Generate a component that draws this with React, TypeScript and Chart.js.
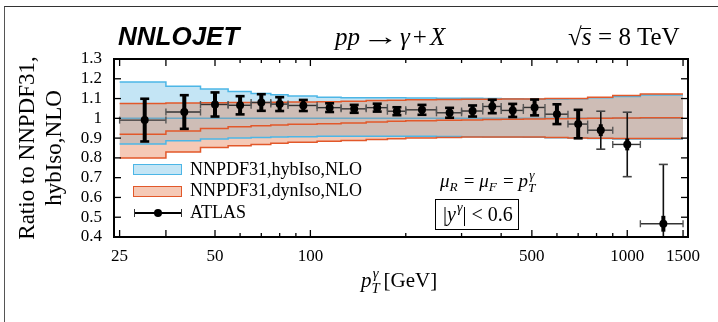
import React, { useEffect, useRef } from "react";
import { Chart, registerables } from "chart.js";

Chart.register(...registerables);

// ---------------- data ----------------
const binEdges = [25, 35, 45, 55, 65, 75, 85, 105, 125, 150, 175, 200, 250, 300, 350, 400, 470, 550, 650, 750, 900, 1100, 1500];

const atlasRatio = [0.991, 1.032, 1.07, 1.066, 1.08, 1.072, 1.065, 1.054, 1.048, 1.054, 1.036, 1.043, 1.028, 1.037, 1.06, 1.04, 1.055, 1.021, 0.971, 0.94, 0.868, 0.467];
const atlasErrTotal = [0.108, 0.085, 0.061, 0.046, 0.042, 0.035, 0.028, 0.022, 0.02, 0.02, 0.02, 0.025, 0.025, 0.028, 0.034, 0.033, 0.04, 0.05, 0.072, 0.096, 0.163, 0.3];
const atlasErrSyst = [0.108, 0.085, 0.061, 0.046, 0.042, 0.035, 0.028, 0.022, 0.02, 0.02, 0.02, 0.025, 0.025, 0.028, 0.034, 0.033, 0.04, 0.05, 0.072, 0.03, 0.03, 0.04];

const hybUp = [1.184, 1.162, 1.148, 1.136, 1.126, 1.119, 1.113, 1.107, 1.104, 1.104, 1.104, 1.103, 1.102, 1.101, 1.1, 1.099, 1.098, 1.098, 1.099, 1.104, 1.111, 1.118];
const hybCentral = [1, 1, 1, 1, 1, 1, 1, 1, 1, 1, 1, 1, 1, 1, 1, 1, 1, 1, 1, 1, 1, 1];
const hybLo = [0.87, 0.887, 0.895, 0.9, 0.903, 0.905, 0.907, 0.909, 0.91, 0.91, 0.91, 0.909, 0.908, 0.907, 0.906, 0.905, 0.904, 0.902, 0.9, 0.898, 0.896, 0.895];

const dynUp = [1.075, 1.077, 1.079, 1.08, 1.08, 1.081, 1.082, 1.084, 1.087, 1.09, 1.092, 1.094, 1.095, 1.096, 1.097, 1.098, 1.098, 1.1, 1.1, 1.107, 1.115, 1.123];
const dynCentral = [0.92, 0.936, 0.949, 0.957, 0.962, 0.966, 0.97, 0.973, 0.976, 0.982, 0.985, 0.988, 0.99, 0.992, 0.994, 0.995, 0.997, 0.998, 0.999, 1.0, 1.002, 1.003];
const dynLo = [0.8, 0.83, 0.853, 0.861, 0.868, 0.874, 0.879, 0.884, 0.888, 0.893, 0.897, 0.9, 0.903, 0.905, 0.906, 0.906, 0.905, 0.903, 0.901, 0.899, 0.898, 0.898];

const xTickLabels = [25, 50, 100, 500, 1000, 1500];
const xMajorMarks = [25, 35, 50, 100, 500, 1000, 1500];
const xMinorMarks = [60, 70, 80, 90, 200, 300, 400, 600, 700, 800, 900];
const yTickValues = [0.4, 0.5, 0.6, 0.7, 0.8, 0.9, 1.0, 1.1, 1.2, 1.3];

const yTitleLines = ["Ratio to NNPDF31,", "hybIso,NLO"];
const legendLabels = ["NNPDF31,hybIso,NLO", "NNPDF31,dynIso,NLO", "ATLAS"];

// ---------------- styles ----------------
const SERIF = '"Liberation Serif", "Times New Roman", serif';
const SANS = '"Liberation Sans", Arial, sans-serif';
const BLUE_LINE = "#4cb6e6";
const BLUE_CENTRAL = "#6ea8c4";
const BLUE_FILL = "#c4e5f5";
const ORANGE_LINE = "#e2582a";
const ORANGE_FILL = "#f5c9b6";
const OVERLAP_FILL = "#cebdb6";

const binCenters = atlasRatio.map((_, i) => (binEdges[i] + binEdges[i + 1]) / 2);

function stepPoints(vals: number[]) {
  const pts = vals.map((v, i) => ({ x: binEdges[i], y: v }));
  pts.push({ x: binEdges[binEdges.length - 1], y: vals[vals.length - 1] });
  return pts;
}

const overlapUp = hybUp.map((v, i) => Math.min(v, dynUp[i]));
const overlapLo = hybLo.map((v, i) => Math.max(v, dynLo[i]));

function bandDataset(vals: number[], color: string, width: number, fill: any, bg: string) {
  return {
    data: stepPoints(vals),
    borderColor: color,
    borderWidth: width,
    pointRadius: 0,
    pointHoverRadius: 0,
    stepped: "before",
    tension: 0,
    fill,
    backgroundColor: bg,
  };
}

const errorBarPlugin = {
  id: "atlasErrorBars",
  beforeDatasetDraw(chart: any, args: any) {
    if (args.index !== 0) return;
    const { ctx, chartArea: a, scales } = chart;
    const x = scales.x;
    const y = scales.y;
    ctx.save();
    ctx.beginPath();
    ctx.rect(a.left, a.top, a.right - a.left, a.bottom - a.top);
    ctx.clip();
    const seg = (x1: number, y1: number, x2: number, y2: number) => {
      ctx.beginPath();
      ctx.moveTo(x1, y1);
      ctx.lineTo(x2, y2);
      ctx.stroke();
    };
    atlasRatio.forEach((v, i) => {
      const xl = x.getPixelForValue(binEdges[i]);
      const xr = x.getPixelForValue(binEdges[i + 1]);
      const xc = x.getPixelForValue(binCenters[i]);
      const yc = y.getPixelForValue(v);
      ctx.strokeStyle = "#333";
      ctx.lineWidth = 1.4;
      seg(xl, yc, xr, yc);
      ctx.strokeStyle = "#555";
      seg(xl, yc - 3.5, xl, yc + 3.5);
      seg(xr, yc - 3.5, xr, yc + 3.5);
      const tot = atlasErrTotal[i];
      const sys = atlasErrSyst[i];
      if (tot > sys + 1e-6) {
        const yt = y.getPixelForValue(v + tot);
        const yb = y.getPixelForValue(v - tot);
        ctx.strokeStyle = "#111";
        ctx.lineWidth = 1.6;
        seg(xc, yt, xc, yb);
        ctx.strokeStyle = "#444";
        seg(xc - 4.5, yt, xc + 4.5, yt);
        seg(xc - 4.5, yb, xc + 4.5, yb);
      }
      const ys1 = y.getPixelForValue(v + sys);
      const ys2 = y.getPixelForValue(v - sys);
      ctx.strokeStyle = "#000";
      ctx.lineWidth = 4;
      seg(xc, ys1, xc, ys2);
      if (tot <= sys + 1e-6) {
        ctx.lineWidth = 2.6;
        seg(xc - 4.5, ys1, xc + 4.5, ys1);
        seg(xc - 4.5, ys2, xc + 4.5, ys2);
      }
    });
    ctx.restore();
  },
};

const framePlugin = {
  id: "frameTicks",
  afterDatasetsDraw(chart: any) {
    const { ctx, chartArea: a, scales } = chart;
    const x = scales.x;
    const y = scales.y;
    ctx.save();
    ctx.strokeStyle = "#000";
    ctx.lineWidth = 1.3;
    const seg = (x1: number, y1: number, x2: number, y2: number) => {
      ctx.beginPath();
      ctx.moveTo(x1, y1);
      ctx.lineTo(x2, y2);
      ctx.stroke();
    };
    xMajorMarks.forEach((v) => {
      const px = x.getPixelForValue(v);
      seg(px, a.bottom, px, a.bottom - 7);
      seg(px, a.top, px, a.top + 7);
    });
    xMinorMarks.forEach((v) => {
      const px = x.getPixelForValue(v);
      seg(px, a.bottom, px, a.bottom - 4);
      seg(px, a.top, px, a.top + 4);
    });
    yTickValues.forEach((v) => {
      const py = y.getPixelForValue(v);
      seg(a.left, py, a.left + 7, py);
      seg(a.right, py, a.right - 7, py);
    });
    ctx.lineWidth = 2;
    ctx.strokeRect(a.left, a.top, a.right - a.left, a.bottom - a.top);
    ctx.restore();
  },
};

// ---------------- text helpers ----------------
const ASC = 0.8375;

function Txt(props: { x: number; base: number; fs: number; family?: string; asc?: number; style?: any; children: any }) {
  const asc = props.asc ?? ASC;
  return (
    <div
      style={{
        position: "absolute",
        left: props.x,
        top: props.base - asc * props.fs,
        fontSize: props.fs,
        lineHeight: 1,
        fontFamily: props.family ?? SERIF,
        whiteSpace: "nowrap",
        color: "#000",
        ...(props.style || {}),
      }}
    >
      {props.children}
    </div>
  );
}

function SubSup(props: { fs: number; sup?: string; sub?: string; w: number; supRaise?: number; subDrop?: number }) {
  const s = 0.7 * props.fs;
  const raise = props.supRaise ?? 0.4;
  const drop = props.subDrop ?? 0.22;
  return (
    <span style={{ display: "inline-block", position: "relative", width: props.w * props.fs, height: 0 }}>
      {props.sup ? (
        <span style={{ position: "absolute", left: 0.06 * props.fs, top: -raise * props.fs - ASC * s, fontSize: s, lineHeight: 1, fontStyle: "italic" }}>
          {props.sup}
        </span>
      ) : null}
      {props.sub ? (
        <span style={{ position: "absolute", left: 0, top: drop * props.fs - ASC * s, fontSize: s, lineHeight: 1, fontStyle: "italic" }}>
          {props.sub}
        </span>
      ) : null}
    </span>
  );
}

export default function App() {
  const canvasRef = useRef<HTMLCanvasElement | null>(null);

  useEffect(() => {
    if (!canvasRef.current) return;
    const chart = new Chart(canvasRef.current, {
      type: "line",
      data: {
        datasets: [
          {
            data: binCenters.map((c, i) => ({ x: c, y: atlasRatio[i] })),
            showLine: false,
            pointRadius: 4,
            pointHoverRadius: 4,
            pointBackgroundColor: "#000",
            pointBorderColor: "#000",
            pointBorderWidth: 0,
            borderColor: "#000",
            backgroundColor: "#000",
          } as any,
          bandDataset(overlapUp, "rgba(0,0,0,0)", 0, "+1", OVERLAP_FILL),
          bandDataset(overlapLo, "rgba(0,0,0,0)", 0, false, "rgba(0,0,0,0)"),
          bandDataset(dynUp, ORANGE_LINE, 1.5, "+1", ORANGE_FILL),
          bandDataset(dynLo, ORANGE_LINE, 1.5, false, "rgba(0,0,0,0)"),
          bandDataset(dynCentral, ORANGE_LINE, 1.5, false, "rgba(0,0,0,0)"),
          bandDataset(hybUp, BLUE_LINE, 1.5, "+1", BLUE_FILL),
          bandDataset(hybLo, BLUE_LINE, 1.5, false, "rgba(0,0,0,0)"),
          bandDataset(hybCentral, BLUE_CENTRAL, 1.5, false, "rgba(0,0,0,0)"),
        ] as any,
      },
      options: {
        animation: false,
        responsive: false,
        devicePixelRatio: 1,
        events: [],
        layout: { padding: { left: 0, top: 59, right: 30, bottom: 0 } },
        plugins: {
          legend: { display: false },
          tooltip: { enabled: false },
          filler: { drawTime: "beforeDatasetsDraw", propagate: false },
        } as any,
        scales: {
          x: {
            type: "logarithmic",
            min: 24,
            max: 1555,
            afterBuildTicks: (s: any) => {
              s.ticks = xTickLabels.map((v) => ({ value: v }));
            },
            afterFit: (s: any) => {
              s.height = 85;
            },
            ticks: {
              autoSkip: false,
              maxRotation: 0,
              minRotation: 0,
              padding: 9,
              color: "#000",
              font: { family: SERIF, size: 17 },
              callback: (v: any) => String(v),
            },
            grid: { display: false, drawTicks: false },
            border: { display: false },
          },
          y: {
            type: "linear",
            min: 0.4,
            max: 1.3,
            afterBuildTicks: (s: any) => {
              s.ticks = yTickValues.map((v) => ({ value: v }));
            },
            afterFit: (s: any) => {
              s.width = 114;
            },
            ticks: {
              autoSkip: false,
              padding: 12,
              color: "#000",
              font: { family: SERIF, size: 17 },
              callback: (v: any) => String(Math.round(Number(v) * 10) / 10),
            },
            grid: { display: false, drawTicks: false },
            border: { display: false },
            title: {
              display: true,
              text: yTitleLines,
              color: "#000",
              font: { family: SERIF, size: 23, lineHeight: 1.15 },
              padding: { top: 15, bottom: 0 },
            },
          },
        } as any,
      },
      plugins: [errorBarPlugin, framePlugin],
    } as any);
    return () => chart.destroy();
  }, []);

  return (
    <div style={{ position: "fixed", left: 0, top: 0, width: 718, height: 322, background: "#fff", overflow: "hidden", fontFamily: SERIF }}>
      <canvas ref={canvasRef} width={718} height={322} style={{ position: "absolute", left: 0, top: 0, width: 718, height: 322 }} />
      <div style={{ position: "absolute", left: 4, top: 6, width: 730, height: 330, borderTop: "1.5px solid #333", borderLeft: "1.5px solid #555" }} />

      <Txt x={118} base={45} fs={26} family={SANS} asc={0.8465} style={{ fontWeight: "bold", fontStyle: "italic" }}>
        NNLOJET
      </Txt>
      <Txt x={335} base={45} fs={25}>
        <i>pp</i>
        <span style={{ display: "inline-block", margin: "0 0.3em", transform: "scaleX(1.5)" }}>→</span>
        <i>γ</i>
        <span style={{ margin: "0 0.12em" }}>+</span>
        <i>X</i>
      </Txt>
      <Txt x={568} base={45} fs={25}>
        <span>√</span>
        <span style={{ position: "relative", fontStyle: "italic" }}>
          s
          <span style={{ position: "absolute", left: -1, right: 0, top: "0.2em", borderTop: "1.3px solid #000" }} />
        </span>
        <span style={{ margin: "0 0.26em" }}>=</span>8 TeV
      </Txt>

      <div style={{ position: "absolute", left: 133, top: 164, width: 49, height: 11, boxSizing: "border-box", background: BLUE_FILL, border: `1.5px solid ${BLUE_LINE}` }} />
      <div style={{ position: "absolute", left: 133, top: 186, width: 49, height: 11, boxSizing: "border-box", background: ORANGE_FILL, border: `1.5px solid ${ORANGE_LINE}` }} />
      <div style={{ position: "absolute", left: 134, top: 212.3, width: 47, height: 1.5, background: "#000" }} />
      <div style={{ position: "absolute", left: 133.5, top: 209, width: 1.5, height: 8, background: "#333" }} />
      <div style={{ position: "absolute", left: 180.5, top: 209, width: 1.5, height: 8, background: "#333" }} />
      <div style={{ position: "absolute", left: 154, top: 209, width: 8, height: 8, borderRadius: 4, background: "#000" }} />
      <Txt x={190} base={175} fs={18}>{legendLabels[0]}</Txt>
      <Txt x={190} base={196} fs={18}>{legendLabels[1]}</Txt>
      <Txt x={190} base={218} fs={18}>{legendLabels[2]}</Txt>

      <Txt x={440} base={187} fs={19}>
        <i>μ</i>
        <SubSup fs={19} sub="R" w={0.5} subDrop={0.22} />
        <span style={{ margin: "0 0.25em" }}>=</span>
        <i>μ</i>
        <SubSup fs={19} sub="F" w={0.5} subDrop={0.22} />
        <span style={{ margin: "0 0.25em" }}>=</span>
        <i>p</i>
        <SubSup fs={19} sup="γ" sub="T" w={0.5} supRaise={0.42} subDrop={0.28} />
      </Txt>

      <div style={{ position: "absolute", left: 435, top: 199, width: 84, height: 31, boxSizing: "border-box", border: "1.5px solid #000" }} />
      <Txt x={443} base={221} fs={20}>
        |<i>y</i>
        <SubSup fs={20} sup="γ" w={0.33} supRaise={0.42} />|<span style={{ margin: "0 0.25em" }}>&lt;</span>0.6
      </Txt>

      <Txt x={361} base={288} fs={21}>
        <i>p</i>
        <SubSup fs={21} sup="γ" sub="T" w={0.48} supRaise={0.42} subDrop={0.28} />
        <span style={{ marginLeft: 2 }}>[GeV]</span>
      </Txt>
    </div>
  );
}
